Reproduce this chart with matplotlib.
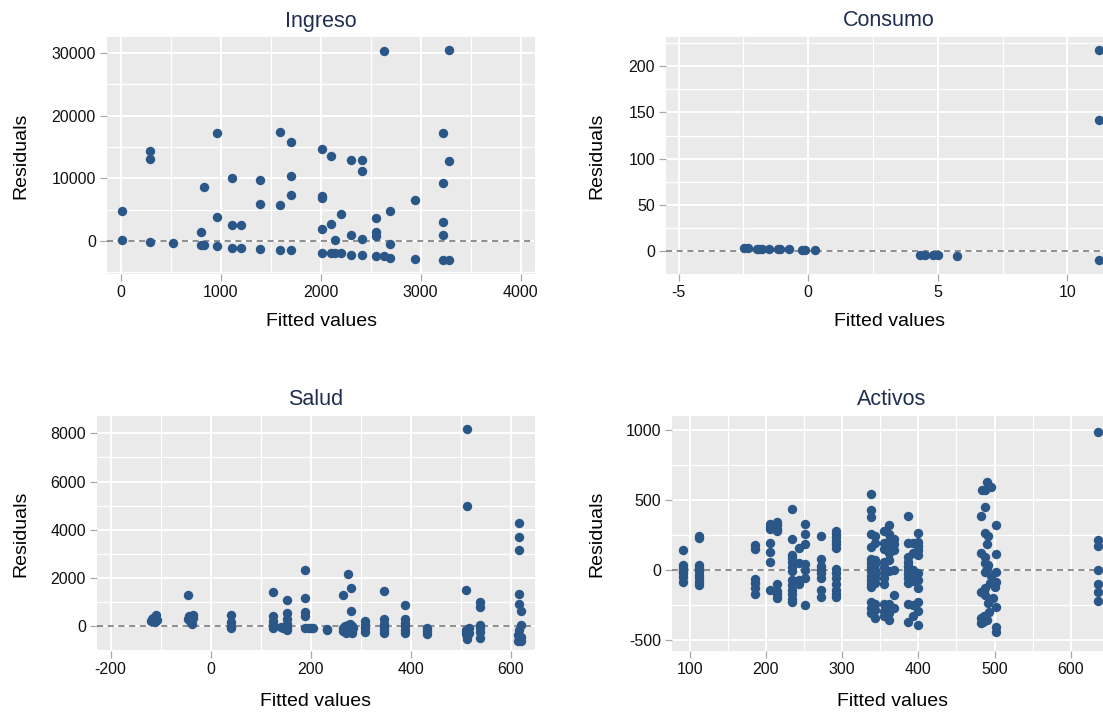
import matplotlib.pyplot as plt
from matplotlib.ticker import MultipleLocator

plt.rcParams['font.family'] = ['Liberation Sans', 'DejaVu Sans']
plt.rcParams['axes.unicode_minus'] = False

W, H = 1103, 712
DOT = '#2a5788'
TITLE = '#1f2d4f'

# Ingreso
ing_x = [10, 10, 293, 293, 293, 520, 803, 803, 830, 830, 966, 966, 966,
         1110, 1110, 1110, 1200, 1200, 1393, 1393, 1393, 1593, 1593, 1593,
         1703, 1703, 1703, 1703, 2016, 2016, 2016, 2016, 2010, 2100, 2100,
         2100, 2143, 2143, 2200, 2200, 2300, 2300, 2300, 2410, 2410, 2410,
         2410, 2553, 2553, 2553, 2553, 2636, 2636, 2693, 2693, 2693, 2946,
         2946, 3226, 3226, 3226, 3226, 3226, 3286, 3286, 3286]
ing_y = [4830, 160, 14300, 13130, -110, -370, 1490, -640, 8610, -640, 17180,
         3880, -850, 10000, 2500, -1070, 2500, -1070, 9780, 5950, -1280,
         17380, 5690, -1490, 15840, 10420, 7290, -1490, 14720, 7130, 6800,
         1870, -1910, 13560, 2750, -1910, 110, -1910, 4350, -1910, 12870, 960,
         -2290, 12870, 11120, 370, -2290, 3670, 1480, 800, -2350, 30320,
         -2450, 4780, -430, -2650, 6590, -2820, 17180, 9300, 3060, 960, -3080,
         30510, 12710, -3080]

# Consumo
con_x = [-2.47, -2.34, -1.98, -1.89, -1.8, -1.5, -1.18, -1.1, -0.76, -0.25,
         -0.13, 0.26, 4.32, 4.5, 4.83, 5.01, 5.73, 11.2, 11.2, 11.2]
con_y = [3.9, 3.9, 2.5, 2.5, 2.3, 2.5, 2.5, 2.4, 2.7, 1.0, 1.0, 1.0,
         -4.0, -4.0, -4.0, -4.0, -5.1, 217.7, 141.4, -9.7]

# Salud
sal_x = [-120, -118, -115, -112, -110, -108,
         -45, -45, -44, -42, -40, -38, -36, -35,
         40, 40, 40, 40,
         124, 124, 124, 124, 124, 140, 145,
         152, 152, 152, 152, 152, 152,
         189, 189, 189, 189, 189, 196, 200, 205,
         232, 232,
         265, 265, 265, 268, 270, 272, 275, 275, 275, 278, 280, 280, 280, 282,
         282, 285,
         309, 309, 309, 309,
         347, 347, 347, 347, 347, 347,
         389, 389, 389, 389, 389, 389,
         432, 432, 432,
         513, 513, 510, 510, 510, 510, 513, 513, 516, 516,
         539, 539, 539, 539, 539, 539,
         617, 617, 617, 617, 617, 620, 620, 617, 614, 620, 617, 614, 620]
sal_y = [200, 300, 350, 150, 450, 250,
         1280, 300, 400, 200, 150, 100, 450, 350,
         450, 150, 0, -80,
         1390, 420, 200, 50, -100, -50, -100,
         1080, 526, 277, 100, -60, -180,
         2330, 1150, 600, 420, -100, -100, -80, -100,
         -120, -180,
         1270, -100, -200, 0, -280, -150, 2150, 50, -250, 100, 1560, 620, -50,
         0, -300, -100,
         220, 50, -100, -250,
         1450, 290, 100, -60, -180, -300,
         860, 280, 120, -20, -150, -300,
         -80, -200, -330,
         8200, 4980, 1500, -150, -250, -350, -450, -550, -300, -100,
         1000, 800, 50, -100, -250, -480,
         4280, 3690, 3160, 1330, 900, 630, 50, -150, -380, -450, -530, -620,
         -620]

# Activos, stacked columns of points at the same fitted value
act_cols = [91, 112, 186, 206, 215, 234, 243, 252, 272, 292, 338, 343, 355,
            362, 368, 387, 393, 400, 636]
act_vals = [
    [145, 35, 15, -5, -25, -50, -85],
    [245, 225, 35, 15, -10, -35, -60, -85, -105],
    [175, 150, -65, -95, -130, -170],
    [330, 310, 290, 195, 125, 55, -140],
    [345, 320, 295, 275, -100, -150, -200, -175],
    [435, 220, 110, 85, 55, 20, -5, -75, -110, -140, -170, -205, -230],
    [155, 50, -100, -70],
    [325, 255, 185, 45, 0, -60, -250],
    [245, 75, 30, 0, -20, -60, -140, -195],
    [275, 255, 235, 210, 185, 160, 10, -25, -60, -100, -140, -170, -190],
    [540, 425, 380, 260, 165, 80, 50, 20, -10, -40, -70, -100, -125, -230,
     -270, -310],
    [240, 190, 70, 40, 0, -30, -55, -90, -240, -285, -340],
    [280, 190, 150, 60, 20, -20, -60, -100, -240, -290, -330],
    [320, 260, 210, 170, 120, 70, -10, -240, -270, -310, -360],
    [220, 185, 140, 0, -180, -270],
    [385, 195, 90, 60, 30, 0, -30, -60, -95, -240, -370],
    [190, 120, 0, -40, -80, -250, -330],
    [265, 200, 170, 140, 110, -20, -70, -130, -230, -290, -395],
    [988, 215, 170, 0, -100, -160, -220],
]
# the loose group near 480-503
act_x500 = [490, 496, 483, 488, 487, 482, 502, 487, 491, 490, 482, 488, 502,
            487, 491, 487, 502, 494, 502, 482, 487, 491, 502, 482, 485, 490,
            482, 502, 502, 490, 495, 487, 500, 498, 493, 486]
act_y500 = [631, 595, 571, 571, 448, 386, 321, 262, 243, 183, 119, 95, 114,
            48, 36, -12, -12, -95, -83, -155, -179, -238, -262, -345, -369,
            -357, -381, -405, -440, 10, -40, -130, -120, -200, -300, -330]

act_x = [c for c, v in zip(act_cols, act_vals) for _ in v] + act_x500
act_y = [y for v in act_vals for y in v] + act_y500


def panel(fig, box, title, xs, ys, xlim, ylim, xstep, ystep, ylab_px, xlab_px):
    l, t, r, b = box
    ax = fig.add_axes([l / W, 1 - b / H, (r - l) / W, (b - t) / H])
    ax.set_facecolor('#eaeaea')
    for s in ax.spines.values():
        s.set_visible(False)
    ax.set_xlim(*xlim)
    ax.set_ylim(*ylim)
    ax.xaxis.set_major_locator(MultipleLocator(xstep))
    ax.xaxis.set_minor_locator(MultipleLocator(xstep / 2))
    ax.yaxis.set_major_locator(MultipleLocator(ystep))
    ax.yaxis.set_minor_locator(MultipleLocator(ystep / 2))
    ax.grid(which='major', color='white', lw=1.4)
    ax.grid(which='minor', color='white', lw=0.9)
    ax.set_axisbelow(True)
    ax.tick_params(which='major', direction='out', length=5, width=0.9,
                   color='#a8a8a8', labelsize=11.5, pad=3, labelcolor='#111111')
    ax.tick_params(which='minor', length=0)
    ax.axhline(0, color='#707070', lw=1.1, ls=(0, (4, 3)), zorder=2)
    ax.scatter(xs, ys, s=46, color=DOT, linewidths=0, zorder=3)
    ax.text(0.5, 1 + 16 / (b - t), title, transform=ax.transAxes,
            ha='center', va='center', fontsize=15.5, color=TITLE)
    ax.set_ylabel('Residuals', fontsize=14, va='center')
    ax.yaxis.set_label_coords((ylab_px - l) / (r - l), 0.5)
    ax.set_xlabel('Fitted values', fontsize=14, va='center')
    ax.xaxis.set_label_coords(0.5, (b - xlab_px) / (b - t))
    return ax


fig = plt.figure(figsize=(W / 100, H / 100), dpi=100)

panel(fig, (107, 37, 535, 274), 'Ingreso', ing_x, ing_y,
      (-137, 4143), (-5263, 32550), 1000, 10000, 21, 322)
panel(fig, (666, 37, 1112, 274), 'Consumo', con_x, con_y,
      (-5.49, 11.72), (-24.5, 231.4), 5, 50, 597, 322)
panel(fig, (97, 416, 535, 651), 'Salud', sal_x, sal_y,
      (-227, 649), (-1040, 8721), 200, 2000, 21, 701)
panel(fig, (672, 416, 1112, 651), 'Activos', act_x, act_y,
      (76.9, 654.1), (-579, 1100), 100, 500, 597, 701)

fig.savefig('out.png', dpi=100)
